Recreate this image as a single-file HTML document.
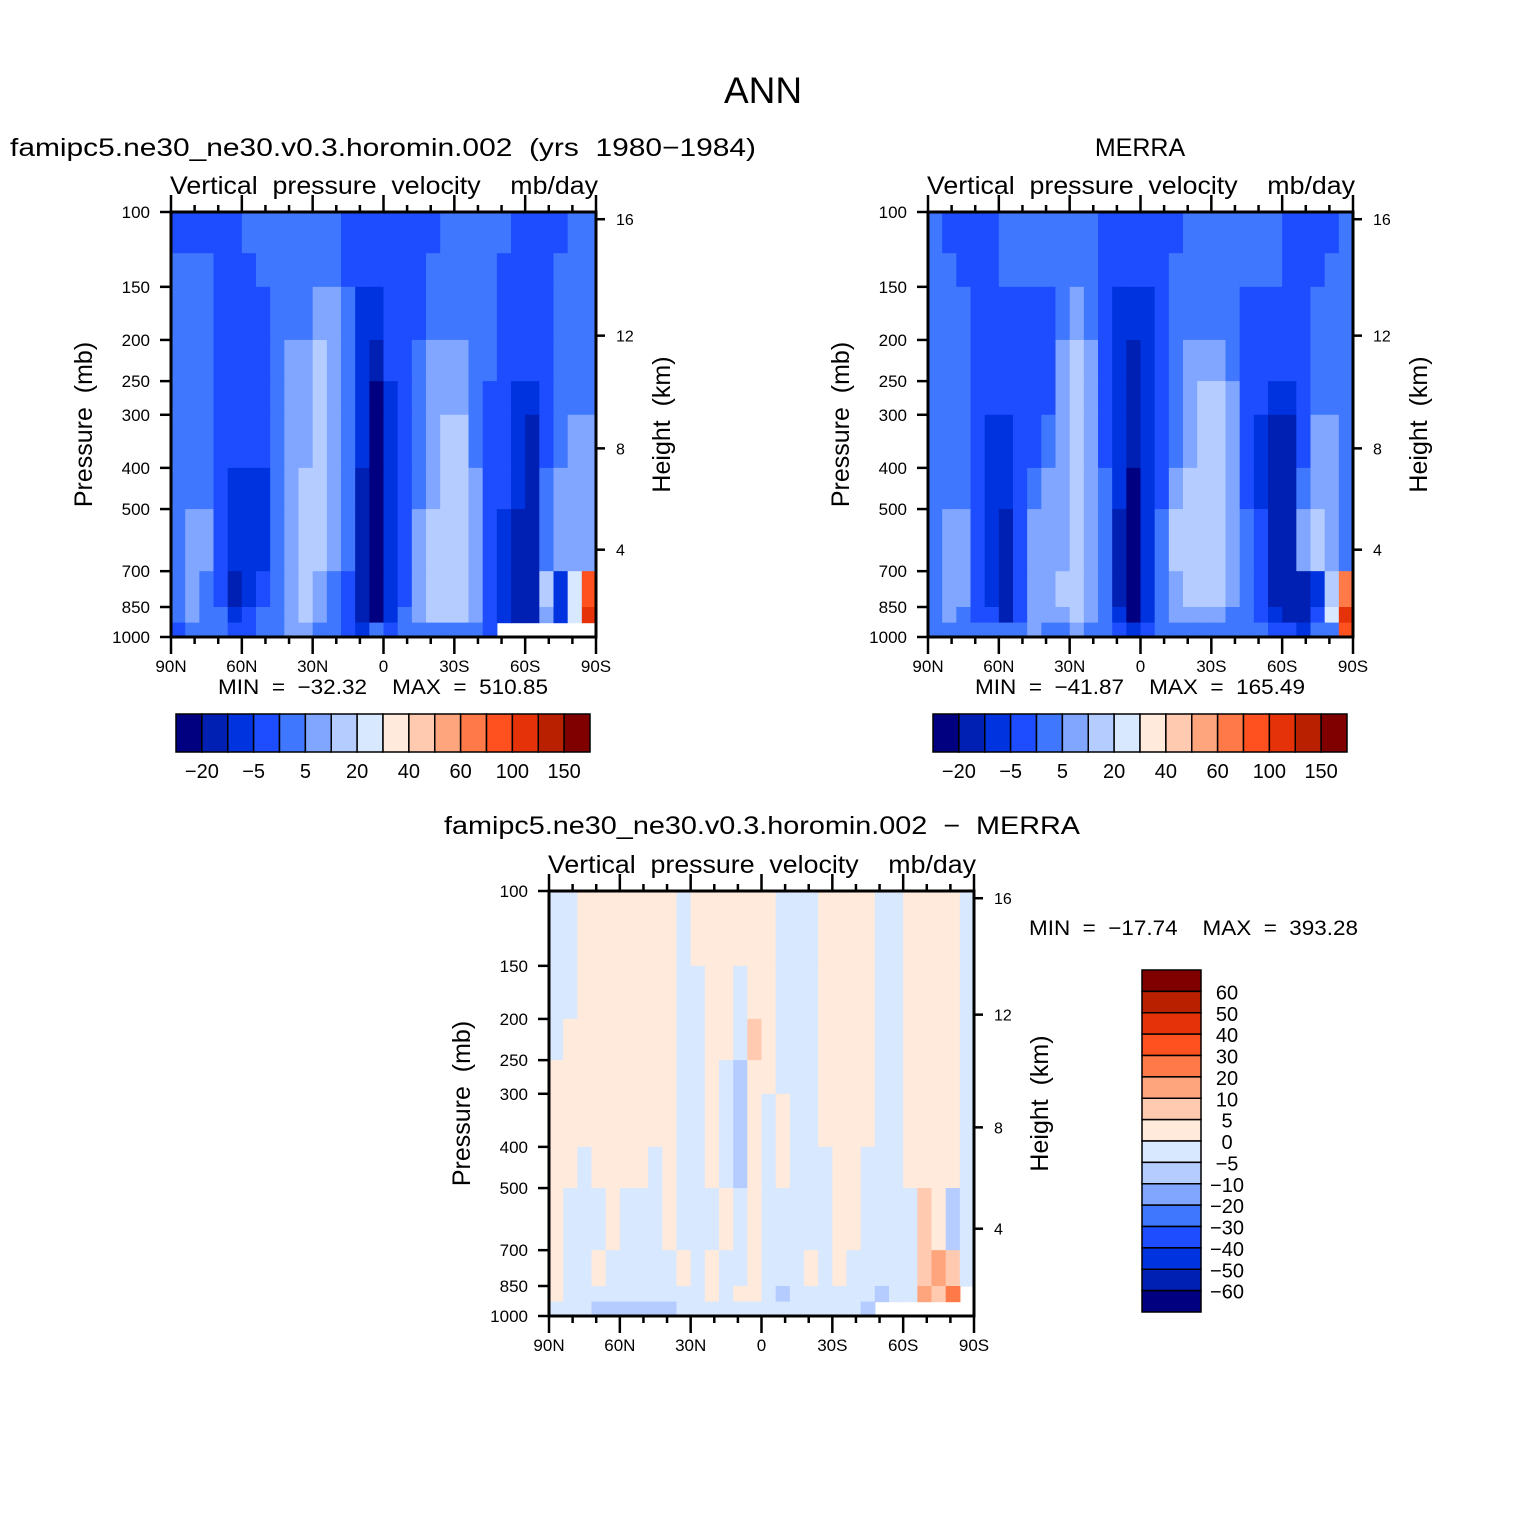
<!DOCTYPE html>
<html><head><meta charset="utf-8"><title>ANN vertical pressure velocity</title>
<style>
html,body{margin:0;padding:0;background:#fff;}
svg{display:block;font-family:"Liberation Sans",sans-serif;}
.pre{white-space:pre;}
</style></head>
<body>
<svg id="chart" width="1524" height="1524" viewBox="0 0 1524 1524" xmlns="http://www.w3.org/2000/svg">
<rect x="0" y="0" width="1524" height="1524" fill="#fff"/>
<text x="763" y="103" font-size="37" text-anchor="middle">ANN</text>
<text x="10" y="156" font-size="25" textLength="746" lengthAdjust="spacingAndGlyphs" class="pre">famipc5.ne30_ne30.v0.3.horomin.002  (yrs  1980−1984)</text>
<text x="1140" y="156" font-size="25" text-anchor="middle">MERRA</text>
<text x="444" y="834" font-size="25" textLength="636" lengthAdjust="spacingAndGlyphs" class="pre">famipc5.ne30_ne30.v0.3.horomin.002  −  MERRA</text>
</svg>
<script>
// ---------- data ----------
const latCenters = [87,81,75,69,63,57,51,45,39,33,27,21,15,9,3,-3,-9,-15,-21,-27,-33,-39,-45,-51,-57,-63,-69,-75,-81,-87];
const pressureEdges = [100,125,150,200,250,300,400,500,700,850,925,1000];
const pressureTicks = [100,150,200,250,300,400,500,700,850,1000];
const heightTicks = [16,12,8,4];
const latTicks = [90,60,30,0,-30,-60,-90];
const latTickLabels = ['90N','60N','30N','0','30S','60S','90S'];
const palette = ['#000080','#0020b4','#0033e0','#1e4dff','#4077ff','#80a6ff','#b4ccff','#d7e8ff','#ffeadb','#ffcab0','#ffa57e','#ff7a48','#ff5020','#e63208','#b82000','#800000'];
const levelsAbs = [-20,-10,-5,0,5,10,20,30,40,50,60,80,100,120,150];
const levelsAbsLabels = ['−20','−5','5','20','40','60','100','150'];
const levelsDiff = [-60,-50,-40,-30,-20,-10,-5,0,5,10,20,30,40,50,60];
const levelsDiffLabels = ['−60','−50','−40','−30','−20','−10','−5','0','5','10','20','30','40','50','60'];
const n = null;
const modelOmega = [
[-2,-2,-2,-2,-2,2,2,2,2,2,2,2,-2,-2,-2,-2,-2,-2,-2,2,2,2,2,2,-2,-2,-2,-2,2,2],
[2,2,2,-2,-2,-2,2,2,2,2,2,2,-2,-2,-2,-2,-2,-2,2,2,2,2,2,-2,-2,-2,-2,2,2,2],
[2,2,2,-2,-2,-2,-2,2,2,2,7,7,2,-7,-7,-2,-2,-2,2,2,2,2,2,-2,-2,-2,-2,2,2,2],
[2,2,2,-2,-2,-2,-2,2,7,7,15,7,2,-7,-15,-2,-2,2,7,7,7,2,2,-2,-2,-2,-2,2,2,2],
[2,2,2,-2,-2,-2,-2,2,7,7,15,7,2,-7,-25,-7,-2,2,7,7,7,2,-2,-2,-7,-7,-2,2,2,2],
[2,2,2,-2,-2,-2,-2,2,7,7,15,7,2,-7,-25,-7,-2,2,7,15,15,2,-2,-2,-7,-15,-2,2,7,7],
[2,2,2,-2,-7,-7,-7,2,7,15,15,7,2,-15,-25,-7,-2,2,7,15,15,7,-2,-2,-7,-15,2,7,7,7],
[2,7,7,-2,-7,-7,-7,2,7,15,15,7,2,-15,-25,-7,-2,7,15,15,15,7,-2,-7,-15,-15,2,7,7,7],
[2,7,2,-2,-15,-7,-2,2,7,15,7,2,-2,-15,-25,-7,-2,7,15,15,15,7,-2,-7,-15,-15,15,-7,25,90],
[2,7,2,2,-7,-2,2,2,7,15,7,2,-2,-15,-25,-7,2,7,15,15,15,7,-2,-7,-15,-15,7,-7,25,110],
[-2,2,2,2,-2,-2,2,2,7,7,2,2,-2,-7,2,-2,2,2,2,2,2,2,-2,n,n,n,n,n,n,n]
];
const merraOmega = [
[2,-2,-2,-2,-2,2,2,2,2,2,2,2,-2,-2,-2,-2,-2,-2,2,2,2,2,2,2,2,-2,-2,-2,-2,2],
[2,2,-2,-2,-2,2,2,2,2,2,2,2,-2,-2,-2,-2,-2,2,2,2,2,2,2,2,2,-2,-2,-2,2,2],
[2,2,2,-2,-2,-2,-2,-2,-2,2,7,2,-2,-7,-7,-7,-2,2,2,2,2,2,-2,-2,-2,-2,-2,2,2,2],
[2,2,2,-2,-2,-2,-2,-2,-2,7,15,7,-2,-7,-15,-7,-2,2,7,7,7,2,-2,-2,-2,-2,-2,2,2,2],
[2,2,2,-2,-2,-2,-2,-2,-2,7,15,7,-2,-7,-15,-7,-2,2,7,15,15,7,-2,-2,-7,-7,-2,2,2,2],
[2,2,2,-2,-7,-7,-2,-2,2,7,15,7,-2,-7,-15,-7,-2,2,7,15,15,7,-2,-7,-15,-15,-2,7,7,2],
[2,2,2,-2,-7,-7,-2,2,7,7,15,7,2,-7,-25,-7,-2,7,15,15,15,7,-2,-7,-15,-15,2,7,7,2],
[2,7,7,-2,-7,-15,-2,7,7,7,15,7,2,-15,-25,-7,2,15,15,15,15,7,2,-2,-15,-15,7,15,7,2],
[2,7,7,-2,-7,-15,-2,7,7,15,15,7,2,-15,-25,-7,2,7,15,15,15,7,2,-2,-15,-15,-15,-7,15,70],
[2,7,2,-2,-2,-15,-2,7,7,7,15,7,2,-7,-25,-7,2,7,7,7,7,2,2,-2,-7,-15,-15,-2,25,110],
[2,2,2,2,2,2,2,7,2,2,7,2,2,-2,-7,-2,2,2,2,2,2,2,2,2,-2,-2,-7,2,2,90]
];
const diffOmega = [
[-2,-2,2,2,2,2,2,2,2,-2,2,2,2,2,2,2,-2,-2,-2,2,2,2,2,-2,-2,2,2,2,2,-2],
[-2,-2,2,2,2,2,2,2,2,-2,2,2,2,2,2,2,-2,-2,-2,2,2,2,2,-2,-2,2,2,2,2,-2],
[-2,-2,2,2,2,2,2,2,2,-2,-2,2,2,-2,2,2,-2,-2,-2,2,2,2,2,-2,-2,2,2,2,2,-2],
[-2,2,2,2,2,2,2,2,2,-2,-2,2,2,-2,7,2,-2,-2,-2,2,2,2,2,-2,-2,2,2,2,2,-2],
[2,2,2,2,2,2,2,2,2,-2,-2,2,-2,-7,2,2,-2,-2,-2,2,2,2,2,-2,-2,2,2,2,2,-2],
[2,2,2,2,2,2,2,2,2,-2,-2,2,-2,-7,2,-2,2,-2,-2,2,2,2,2,-2,-2,2,2,2,2,-2],
[2,2,-2,2,2,2,2,-2,2,-2,-2,2,-2,-7,2,-2,2,-2,-2,-2,2,2,-2,-2,-2,2,2,2,2,-2],
[2,-2,-2,-2,2,-2,-2,-2,2,-2,-2,-2,2,-2,2,-2,-2,-2,-2,-2,2,2,-2,-2,-2,-2,7,2,-7,-2],
[2,-2,-2,2,-2,-2,-2,-2,-2,2,-2,2,-2,-2,2,-2,-2,-2,2,-2,2,-2,-2,-2,-2,-2,7,15,7,-2],
[2,-2,-2,-2,-2,-2,-2,-2,-2,-2,-2,2,-2,2,2,-2,-7,-2,-2,-2,-2,-2,-2,-7,-2,-2,15,7,25,n],
[-2,-2,-2,-7,-7,-7,-7,-7,-7,-2,-2,-2,-2,-2,-2,-2,-2,-2,-2,-2,-2,-2,-7,n,n,n,n,n,n,n]
];

// ---------- helpers ----------
const NS = 'http://www.w3.org/2000/svg';
const svg = document.getElementById('chart');
function mk(tag, attrs, parent) {
  const e = document.createElementNS(NS, tag);
  for (const k in attrs) e.setAttribute(k, attrs[k]);
  (parent || svg).appendChild(e);
  return e;
}
function colorFor(v, levels) {
  let i = 0;
  while (i < levels.length && v >= levels[i]) i++;
  return palette[i];
}
function heightToP(z) {
  const m = z * 1000;
  if (m <= 11000) return 1013.25 * Math.pow(1 - 2.25577e-5 * m, 5.25588);
  return 226.32 * Math.exp(-0.0001577 * (m - 11000));
}

function drawPanel(P) {
  const g = mk('g', {});
  
  
  const xs = lat => P.x0 + (90 - lat) / 180 * P.w;
  const ys = p => P.y0 + (Math.log10(p) - 2) * P.h;
  const half = (latCenters[0] - latCenters[1]) / 2;
  for (let r = 0; r < P.data.length; r++) {
    const yt = ys(pressureEdges[r]), yb = ys(pressureEdges[r + 1]);
    for (let c = 0; c < latCenters.length; c++) {
      const v = P.data[r][c];
      if (v === null) continue;
      const xl = xs(latCenters[c] + half), xr = xs(latCenters[c] - half);
      const cell = mk('rect', {x: xl, y: yt, width: xr - xl + 0.6, height: yb - yt + 0.6, fill: colorFor(v, P.levels)}, g);
      
      
    }
  }
  const frame = mk('rect', {x: P.x0, y: P.y0, width: P.w, height: P.h, fill: 'none', stroke: '#000', 'stroke-width': 3}, g);
  
  
  for (let lat = 90; lat >= -90; lat -= 10) {
    const major = latTicks.indexOf(lat) >= 0;
    const L = major ? 17 : 7;
    const x = xs(lat);
    const t1 = mk('line', {x1: x, x2: x, y1: P.y0, y2: P.y0 - L, stroke: '#000', 'stroke-width': 2.5}, g);
    
    
    const t2 = mk('line', {x1: x, x2: x, y1: P.y0 + P.h, y2: P.y0 + P.h + L, stroke: '#000', 'stroke-width': 2.5}, g);
    
    
  }
  latTicks.forEach((lat, i) => {
    const t = mk('text', {x: xs(lat), y: P.y0 + P.h + 35, 'font-size': 17, 'text-anchor': 'middle'}, g);
    t.textContent = latTickLabels[i];
    
    
  });
  pressureTicks.forEach(p => {
    const y = ys(p);
    const t = mk('line', {x1: P.x0, x2: P.x0 - 11, y1: y, y2: y, stroke: '#000', 'stroke-width': 2.5}, g);
    
    
    const lb = mk('text', {x: P.x0 - 21, y: y + 6, 'font-size': 17, 'text-anchor': 'end'}, g);
    lb.textContent = String(p);
    
    
  });
  heightTicks.forEach(z => {
    const y = ys(heightToP(z)) + 2;
    const t = mk('line', {x1: P.x0 + P.w, x2: P.x0 + P.w + 9, y1: y, y2: y, stroke: '#000', 'stroke-width': 2.5}, g);
    
    
    const lb = mk('text', {x: P.x0 + P.w + 20, y: y + 6, 'font-size': 16}, g);
    lb.textContent = String(z);
    
    
  });
  const sub = mk('text', {x: P.x0 - 1, y: P.y0 - 18, 'font-size': 25, textLength: 428, lengthAdjust: 'spacingAndGlyphs', class: 'pre'}, g);
  sub.textContent = 'Vertical  pressure  velocity    mb/day';
  
  
  const cy = P.y0 + P.h / 2;
  const yl = mk('text', {x: 0, y: 0, 'font-size': 25, 'text-anchor': 'middle', class: 'pre', transform: 'translate(' + (P.x0 - 79) + ',' + cy + ') rotate(-90)'}, g);
  yl.textContent = 'Pressure  (mb)';
  
  
  const hl = mk('text', {x: 0, y: 0, 'font-size': 25, 'text-anchor': 'middle', class: 'pre', transform: 'translate(' + (P.x0 + P.w + 74) + ',' + cy + ') rotate(-90)'}, g);
  hl.textContent = 'Height  (km)';
  
  
}

function drawHBar(x0, y0, w, h, cx, labelY, minmax, name) {
  const g = mk('g', {});
  
  
  const bw = w / palette.length;
  palette.forEach((col, i) => {
    const b = mk('rect', {x: x0 + i * bw, y: y0, width: bw, height: h, fill: col, stroke: '#000', 'stroke-width': 1.5}, g);
    
    
  });
  levelsAbsLabels.forEach((lab, i) => {
    const t = mk('text', {x: x0 + (2 * i + 1) * bw, y: labelY, 'font-size': 20, 'text-anchor': 'middle'}, g);
    t.textContent = lab;
    
    
  });
  const mm = mk('text', {x: cx, y: y0 - 20, 'font-size': 21, 'text-anchor': 'middle', textLength: 330, lengthAdjust: 'spacingAndGlyphs', class: 'pre'}, g);
  mm.textContent = minmax;
  
  
}

drawPanel({name: 'model-panel', x0: 171, y0: 212, w: 425, h: 425, data: modelOmega, levels: levelsAbs});
drawPanel({name: 'merra-panel', x0: 928, y0: 212, w: 425, h: 425, data: merraOmega, levels: levelsAbs});
drawPanel({name: 'difference-panel', x0: 549, y0: 891, w: 425, h: 425, data: diffOmega, levels: levelsDiff});
drawHBar(176, 714, 414, 38, 383, 778, 'MIN  =  −32.32    MAX  =  510.85', 'model-colorbar');
drawHBar(933, 714, 414, 38, 1140, 778, 'MIN  =  −41.87    MAX  =  165.49', 'merra-colorbar');

(function () {
  const g = mk('g', {});
  
  
  const x0 = 1142, y0 = 970, w = 59, h = 342;
  const bh = h / palette.length;
  for (let i = 0; i < palette.length; i++) {
    const b = mk('rect', {x: x0, y: y0 + i * bh, width: w, height: bh, fill: palette[palette.length - 1 - i], stroke: '#000', 'stroke-width': 1.5}, g);
    
    
  }
  for (let k = 0; k < levelsDiffLabels.length; k++) {
    const idx = levelsDiffLabels.length - 1 - k;
    const t = mk('text', {x: 1227, y: y0 + (k + 1) * bh + 8, 'font-size': 20, 'text-anchor': 'middle'}, g);
    t.textContent = levelsDiffLabels[idx];
    
    
  }
  const mm = mk('text', {x: 1029, y: 935, 'font-size': 21, textLength: 329, lengthAdjust: 'spacingAndGlyphs', class: 'pre'}, g);
  mm.textContent = 'MIN  =  −17.74    MAX  =  393.28';
  
  
})();
</script>
</body></html>
